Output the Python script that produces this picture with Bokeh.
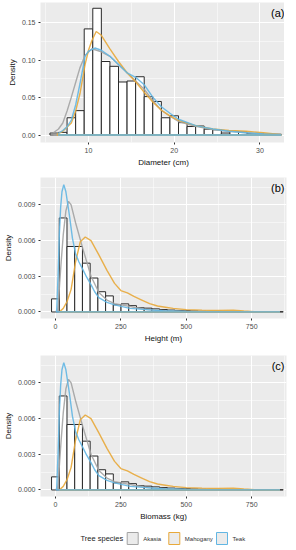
from bokeh.plotting import figure
from bokeh.layouts import column
from bokeh.models import (FixedTicker, NumeralTickFormatter, Label,
                          ColumnDataSource, Range1d)
from bokeh.core.properties import value
from bokeh.embed import file_html
from bokeh.resources import INLINE

# ---------------- data ----------------
species = ["Akasia", "Mahogany", "Teak"]
species_colors = ["#A3A3A3", "#E8A93A", "#62B6E3"]
legend_title = "Tree species"

# Panel (a): Diameter (cm)
dia_bin_centers = [6, 7, 8, 9, 10, 11, 12, 13, 14, 15, 16, 17, 18, 19, 20,
                   21, 22, 23, 24, 25, 26, 27, 28, 29, 30, 31, 32]
dia_bin_width = 1.0
dia_hist = [0.0026, 0.0035, 0.023, 0.0325, 0.1415, 0.169, 0.098, 0.0916,
            0.0707, 0.072, 0.0777, 0.0512, 0.0447, 0.023, 0.0256, 0.0165,
            0.0113, 0.012, 0.0078, 0.007, 0.0026, 0.0048, 0.004, 0.002,
            0.0013, 0.001, 0.001]
dia_akasia_x = [5.9, 6.5, 7.0, 7.5, 8.0, 8.5, 9.0, 9.6, 10.4, 11.5, 12.5, 13.5,
                14.5, 15.5, 16.5, 17.5, 18.5, 19.5, 20.5, 22.5, 24.5, 26.4,
                28.4, 30.4, 32.5]
dia_akasia_y = [0.003, 0.008, 0.016, 0.032, 0.0505, 0.070, 0.0895, 0.106,
                0.115, 0.111, 0.105, 0.094, 0.083, 0.072, 0.061, 0.046, 0.033,
                0.025, 0.018, 0.0117, 0.0073, 0.005, 0.003, 0.0013, 0.0003]
dia_mahogany_x = [6.3, 7.0, 8.0, 8.5, 9.0, 9.6, 10.0, 10.4, 10.9, 11.5, 12.5,
                  13.5, 14.5, 15.5, 16.5, 17.5, 18.5, 19.5, 20.5, 22.5, 24.5,
                  26.4, 28.4, 30.4, 32.5]
dia_mahogany_y = [0.001, 0.005, 0.016, 0.032, 0.055, 0.094, 0.113, 0.126,
                  0.138, 0.133, 0.115, 0.098, 0.083, 0.071, 0.057, 0.044,
                  0.033, 0.0255, 0.0195, 0.0125, 0.008, 0.006, 0.005, 0.003,
                  0.0005]
dia_teak_x = [6.45, 7.0, 7.5, 8.0, 8.5, 9.0, 9.6, 10.0, 10.75, 11.5, 12.5,
              13.5, 14.5, 15.5, 16.5, 17.5, 18.5, 19.5, 20.5, 22.5, 24.5,
              26.4, 28.4, 30.4, 32.5]
dia_teak_y = [0.002, 0.006, 0.011, 0.020, 0.040, 0.068, 0.105, 0.112, 0.116,
              0.113, 0.105, 0.094, 0.083, 0.077, 0.067, 0.0505, 0.0376, 0.029,
              0.021, 0.0125, 0.008, 0.005, 0.003, 0.0015, 0.0003]

# Panels (b) and (c): Height (m) and Biomass (kg)
big_bin_width = 29.5
big_bin_centers = [k * big_bin_width for k in range(30)]
big_hist = [0.0011, 0.0079, 0.0055, 0.0055, 0.0041, 0.00285, 0.0017, 0.00135,
            0.0006, 0.00068, 0.00053, 0.00035, 0.00032, 0.00026, 0.0002,
            0.00016, 0.00013, 0.0001, 0.00008, 0.00006, 0.00005, 0.00005,
            0.00004, 0.00003, 0.00002, 0.00002, 0.00001, 0.00001, 0.00001,
            0.00002]
big_akasia_x = [8, 15, 22, 30, 40, 50, 60, 77, 105, 136, 166, 197, 226, 300,
                350, 420, 500, 600, 858]
big_akasia_y = [0.0, 0.002, 0.0042, 0.0065, 0.0085, 0.0093, 0.0090, 0.0075,
                0.0053, 0.003, 0.00164, 0.001, 0.0007, 0.0004, 0.0002, 0.0001,
                0.00004, 0.00002, 0.0]
big_mahogany_x = [15, 30, 45, 60, 77, 95, 114, 136, 166, 197, 226, 250, 275,
                  300, 330, 360, 390, 420, 450, 500, 560, 620, 680, 720, 760,
                  858]
big_mahogany_y = [0.0, 0.0003, 0.0009, 0.0019, 0.0042, 0.0059, 0.0063, 0.0060,
                  0.0048, 0.0035, 0.0024, 0.0018, 0.0016, 0.0013, 0.0010,
                  0.0007, 0.0005, 0.0004, 0.0003, 0.0002, 0.00015, 0.00012,
                  0.00015, 0.00008, 0.00003, 0.0]
big_teak_x = [3, 5, 10, 15, 20, 25, 32, 40, 53, 65, 77, 90, 105, 120, 136, 150,
              166, 197, 226, 285, 348, 410, 500, 600, 858]
big_teak_y = [0.0, 0.0002, 0.003, 0.0065, 0.0088, 0.0101, 0.0107, 0.0101,
              0.0082, 0.0062, 0.0049, 0.0042, 0.00356, 0.0029, 0.0023, 0.0017,
              0.0012, 0.0008, 0.0006, 0.0003, 0.0002, 0.0001, 0.00004,
              0.00001, 0.0]

FONT = "Liberation Sans"
FRAME_W = 246
BORDER_L = 32
BORDER_R = 2


def make_panel(xr, yr, xticks, xminor, yticks, yminor, yfmt, xlabel, tag,
               centers, width, hist, curves, frame_h, top):
    p = figure(frame_width=FRAME_W, frame_height=frame_h,
               x_range=Range1d(*xr), y_range=Range1d(*yr),
               output_backend="svg", toolbar_location=None,
               min_border_left=BORDER_L, min_border_right=BORDER_R,
               min_border_top=top, min_border_bottom=0,
               background_fill_color="#EBEBEB", border_fill_color="white",
               outline_line_color=None)
    p.xaxis.ticker = FixedTicker(ticks=xticks, minor_ticks=xminor)
    p.yaxis.ticker = FixedTicker(ticks=yticks, minor_ticks=yminor)
    p.yaxis.formatter = NumeralTickFormatter(format=yfmt)
    for g in (p.xgrid, p.ygrid):
        g.grid_line_color = "white"
        g.grid_line_width = 1
        g.minor_grid_line_color = "white"
        g.minor_grid_line_width = 0.5
    for ax in (p.xaxis, p.yaxis):
        ax.axis_line_color = None
        ax.major_tick_line_color = "#333333"
        ax.major_tick_out = 2
        ax.major_tick_in = 0
        ax.minor_tick_line_color = None
        ax.major_label_text_font = FONT
        ax.major_label_text_font_size = "7px"
        ax.major_label_text_color = "#4D4D4D"
        ax.major_label_standoff = 1
        ax.axis_label_text_font = FONT
        ax.axis_label_text_font_size = "8px"
        ax.axis_label_text_font_style = "normal"
        ax.axis_label_text_color = "#111111"
        ax.axis_label_standoff = 2
    p.xaxis.axis_label = xlabel
    p.yaxis.axis_label = "Density"

    src = ColumnDataSource(dict(x=centers, top=hist))
    p.vbar(x="x", top="top", bottom=0, width=width, source=src,
           fill_color="white", line_color="#2A2A2A", line_width=1.0)

    for (cx, cy), col in zip(curves, species_colors):
        p.line(cx, cy, line_color=col, line_width=1.4, line_alpha=0.9)
    for (cx, cy), col in zip(curves, species_colors):
        p.line([cx[0], cx[-1]], [0, 0], line_color=col, line_width=1.3)

    p.add_layout(Label(x=xr[1], y=yr[1], text=tag, text_align="right",
                       text_baseline="top", x_offset=-2, y_offset=-4,
                       text_font=FONT, text_font_size="11px",
                       text_color="black"))
    return p


pa = make_panel((4.4, 33.1), (-0.0100, 0.1767), [10, 20, 30], [5, 15, 25],
                [0, 0.05, 0.10, 0.15], [0.025, 0.075, 0.125], "0.00",
                "Diameter (cm)", "(a)", dia_bin_centers, dia_bin_width,
                dia_hist,
                [(dia_akasia_x, dia_akasia_y), (dia_mahogany_x, dia_mahogany_y),
                 (dia_teak_x, dia_teak_y)], 140, 2)

big_curves = [(big_akasia_x, big_akasia_y), (big_mahogany_x, big_mahogany_y),
              (big_teak_x, big_teak_y)]
big_xr = (-57, 883)
big_yr = (-0.00055, 0.0113)
big_xt = [0, 250, 500, 750]
big_xm = [125, 375, 625, 875]
big_yt = [0, 0.003, 0.006, 0.009]
big_ym = [0.0015, 0.0045, 0.0075, 0.0105]

pb = make_panel(big_xr, big_yr, big_xt, big_xm, big_yt, big_ym, "0.000",
                "Height (m)", "(b)", big_bin_centers, big_bin_width, big_hist,
                big_curves, 141, 8)
pc = make_panel(big_xr, big_yr, big_xt, big_xm, big_yt, big_ym, "0.000",
                "Biomass (kg)", "(c)", big_bin_centers, big_bin_width,
                big_hist, big_curves, 141, 10)

# ---------------- legend row (layout in figure pixels) ----------------
LEG_H = 22
pl = figure(frame_width=FRAME_W, frame_height=LEG_H,
            x_range=Range1d(BORDER_L, BORDER_L + FRAME_W),
            y_range=Range1d(0, LEG_H), output_backend="svg",
            x_axis_location=None, y_axis_location=None,
            min_border_left=BORDER_L, min_border_right=BORDER_R,
            min_border_top=4, min_border_bottom=0,
            toolbar_location=None, outline_line_color=None,
            background_fill_color="white", border_fill_color="white")
pl.grid.visible = False
mid = LEG_H / 2
key_left = [118.7, 160.3, 208.0]
key_w, key_h = 11, 12
leg_src = ColumnDataSource(dict(
    kx=[k + key_w / 2 for k in key_left],
    tx=[k + key_w + 5 for k in key_left],
    y=[mid] * len(species), label=species, color=species_colors))
pl.rect(x="kx", y="y", width=key_w, height=key_h, source=leg_src,
        fill_color="#EBEBEB", line_color="color", line_width=1)
pl.text(x="tx", y="y", text="label", source=leg_src,
        text_font=value(FONT), text_font_size=value("6px"),
        text_baseline="middle", text_align="left", text_color="#333333")
pl.text(x=[72], y=[mid], text=[legend_title], text_font=value(FONT),
        text_font_size=value("7.5px"), text_baseline="middle",
        text_align="left", text_color="#222222")

layout = column(pa, pb, pc, pl, spacing=0)
open("out.html", "w").write(file_html(layout, INLINE))
